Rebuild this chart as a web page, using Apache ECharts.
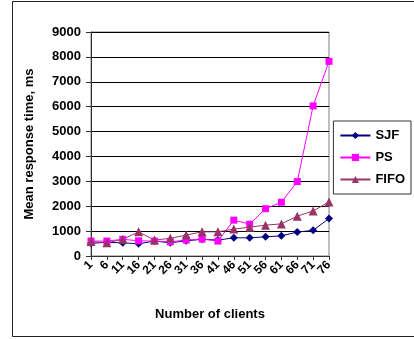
<!DOCTYPE html>
<html>
<head>
<meta charset="utf-8">
<script src="https://cdn.jsdelivr.net/npm/echarts@6/dist/echarts.min.js"></script>
<style>
  html, body { margin: 0; padding: 0; background: #fff; }
  #chart { width: 414px; height: 339px; }
</style>
</head>
<body>
<div id="chart"></div>
<script>
// number of clients
const clients = ['1','6','11','16','21','26','31','36','41','46','51','56','61','66','71','76'];
// mean response time, ms
const sjf  = [510, 550, 530, 490, 600, 530, 610, 670, 640, 730, 730, 770, 810, 960, 1030, 1510];
const ps   = [600, 600, 670, 610, 600, 570, 640, 680, 600, 1440, 1280, 1900, 2160, 2990, 6030, 7820];
const fifo = [580, 530, 670, 970, 640, 710, 840, 970, 970, 1080, 1160, 1240, 1290, 1600, 1810, 2170];
const yTicks = [0, 1000, 2000, 3000, 4000, 5000, 6000, 7000, 8000, 9000];

let myChart = echarts.init(document.getElementById('chart'));

const boldFont = { fontFamily: 'Liberation Sans, Arial, sans-serif', fontWeight: 'bold', color: '#000' };

myChart.setOption({
  animation: false,
  textStyle: { fontFamily: 'Liberation Sans, Arial, sans-serif' },
  graphic: [{
    type: 'rect',
    shape: { x: 12.5, y: 1.5, width: 420, height: 335 },
    style: { fill: 'none', stroke: '#222', lineWidth: 1 },
    silent: true
  }],
  grid: {
    left: 91, right: 85, top: 32, bottom: 83,
    show: true, borderColor: '#808080', borderWidth: 1
  },
  legend: {
    right: 3, top: 121,
    orient: 'vertical',
    itemGap: 9,
    itemWidth: 30, itemHeight: 9,
    padding: [8, 6, 8, 6],
    borderColor: '#333', borderWidth: 1,
    textStyle: Object.assign({ fontSize: 13 }, boldFont),
    data: ['SJF', 'PS', 'FIFO']
  },
  xAxis: {
    type: 'category',
    data: clients,
    boundaryGap: false,
    name: 'Number of clients',
    nameLocation: 'middle',
    nameGap: 52,
    nameTextStyle: Object.assign({ fontSize: 13 }, boldFont),
    axisLine: { lineStyle: { color: '#333' } },
    axisTick: { alignWithLabel: true, length: 4, lineStyle: { color: '#333' } },
    axisLabel: Object.assign({ rotate: 45, fontSize: 12, margin: 7, interval: 0 }, boldFont)
  },
  yAxis: {
    type: 'value',
    min: 0, max: 9000, interval: 1000,
    name: 'Mean response time, ms',
    nameLocation: 'middle',
    nameGap: 55,
    nameTextStyle: Object.assign({ fontSize: 13 }, boldFont),
    axisLine: { show: true, lineStyle: { color: '#333' } },
    axisTick: { show: true, length: 5, lineStyle: { color: '#333' } },
    axisLabel: Object.assign({ fontSize: 13, margin: 10,
      formatter: v => yTicks.includes(v) ? String(v) : '' }, boldFont),
    splitLine: { lineStyle: { color: '#000', width: 1 } }
  },
  series: [
    {
      name: 'SJF', type: 'line', data: sjf,
      symbol: 'diamond', symbolSize: 8,
      itemStyle: { color: '#000080' },
      lineStyle: { color: '#000080', width: 1 }
    },
    {
      name: 'PS', type: 'line', data: ps,
      symbol: 'rect', symbolSize: 7,
      itemStyle: { color: '#ff00ff' },
      lineStyle: { color: '#ff00ff', width: 1 }
    },
    {
      name: 'FIFO', type: 'line', data: fifo,
      symbol: 'triangle', symbolSize: 9,
      itemStyle: { color: '#993366' },
      lineStyle: { color: '#993366', width: 1 }
    }
  ]
});
</script>
</body>
</html>
